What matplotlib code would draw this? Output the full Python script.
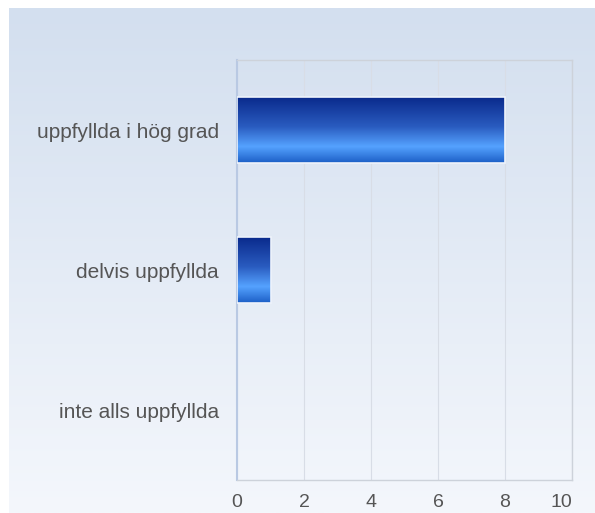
import matplotlib.pyplot as plt
import numpy as np
from matplotlib.colors import LinearSegmentedColormap

categories = ["uppfyllda i hög grad", "delvis uppfyllda", "inte alls uppfyllda"]
values = [8, 1, 0]
xticks = [0, 2, 4, 6, 8, 10]

W, H = 595, 513
fig = plt.figure(figsize=(W / 100, H / 100), dpi=100)

# background panel with vertical gradient
bg = fig.add_axes([9 / W, 0, 1 - 9 / W, 1 - 8 / H])
bg_cmap = LinearSegmentedColormap.from_list("bg", ["#d3dfef", "#f4f7fc"])
bg.imshow(np.linspace(0, 1, 256).reshape(-1, 1), cmap=bg_cmap, aspect="auto",
          extent=[0, 1, 0, 1], origin="upper")
bg.set_axis_off()

# plot area
left, right, top, bottom = 237, 572, 60, 480
ax = fig.add_axes([left / W, 1 - bottom / H, (right - left) / W, (bottom - top) / H])
ax.patch.set_alpha(0)

bar_cmap = LinearSegmentedColormap.from_list(
    "bar", [(0, "#0a2a8c"), (0.45, "#2a5cc0"), (0.75, "#55a2ff"), (1.0, "#1c5fc6")])
grad = np.linspace(0, 1, 256).reshape(-1, 1)
h = 0.47
ypos = np.arange(len(categories))
for y, v in zip(ypos, values):
    if v <= 0:
        continue
    ax.imshow(grad, cmap=bar_cmap, aspect="auto", origin="upper",
              extent=[0, v, y + h / 2, y - h / 2], zorder=3)
    ax.barh(y, v, height=h, facecolor="none", edgecolor="#eef3fb", linewidth=1.2, zorder=4)

ax.set_xlim(0, 10)
ax.set_ylim(2.5, -0.5)
ax.set_xticks(xticks)
ax.set_yticks(ypos)
ax.set_yticklabels(categories)
ax.grid(axis="x", color="#d8dde6", linewidth=0.8, zorder=0)
ax.set_axisbelow(True)
ax.tick_params(length=0, labelcolor="#555555")
ax.tick_params(axis="y", pad=13, labelsize=15)
ax.tick_params(axis="x", pad=10, labelsize=14)
for lab in ax.get_xticklabels() + ax.get_yticklabels():
    lab.set_family(["Liberation Sans", "DejaVu Sans"])
ax.get_xticklabels()[-1].set_horizontalalignment("right")
for s in ["top", "right", "bottom"]:
    ax.spines[s].set_color("#cdd2da")
    ax.spines[s].set_linewidth(1)
ax.spines["left"].set_color("#b9c9e3")
ax.spines["left"].set_linewidth(1.5)

fig.savefig("out.png", dpi=100)
